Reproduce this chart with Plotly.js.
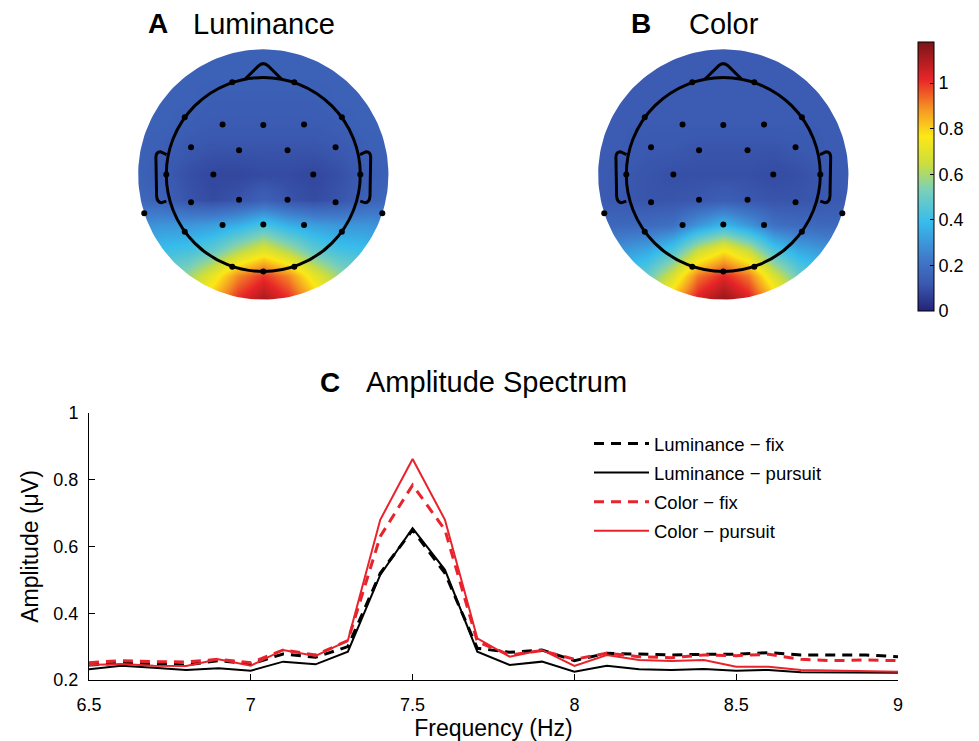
<!DOCTYPE html>
<html><head><meta charset="utf-8">
<script src="https://cdn.plot.ly/plotly-3.0.1.min.js"></script>
<style>html,body{margin:0;padding:0;background:#fff}#plot{width:979px;height:741px}</style>
</head><body><div id="plot"></div><script>
// ---------- data: amplitude spectrum ----------
const freq = [6.5,6.6,6.7,6.8,6.9,7.0,7.1,7.2,7.3,7.4,7.5,7.6,7.7,7.8,7.9,8.0,8.1,8.2,8.3,8.4,8.5,8.6,8.7,8.8,8.9,9.0];
const lumFix = [0.245,0.250,0.248,0.245,0.258,0.248,0.278,0.268,0.300,0.520,0.650,0.520,0.295,0.283,0.290,0.258,0.280,0.278,0.275,0.277,0.277,0.282,0.275,0.275,0.275,0.270];
const lumPur = [0.232,0.243,0.237,0.230,0.235,0.228,0.255,0.247,0.285,0.515,0.655,0.530,0.285,0.245,0.255,0.225,0.243,0.232,0.230,0.233,0.228,0.230,0.223,0.222,0.223,0.222];
const colFix = [0.252,0.258,0.255,0.254,0.262,0.252,0.290,0.275,0.318,0.630,0.784,0.650,0.315,0.275,0.288,0.262,0.280,0.270,0.267,0.275,0.273,0.277,0.262,0.258,0.260,0.258];
const colPur = [0.245,0.248,0.243,0.242,0.262,0.243,0.290,0.272,0.318,0.680,0.862,0.680,0.325,0.270,0.290,0.242,0.275,0.260,0.257,0.260,0.240,0.240,0.230,0.228,0.227,0.225];
const seriesNames = ['Luminance \u2212 fix','Luminance \u2212 pursuit','Color \u2212 fix','Color \u2212 pursuit'];
const xTicks = [6.5,7,7.5,8,8.5,9];
const yTicks = [0.2,0.4,0.6,0.8,1];

// ---------- data: topographic maps (head units, radius 1 = head outline) ----------
const topoX = [-1.3,-1.04,-0.78,-0.52,-0.26,0,0.26,0.52,0.78,1.04,1.3];
const topoY = [-1.3,-1.04,-0.78,-0.52,-0.26,0,0.26,0.52,0.78,1.04,1.3];
const zLum = [
 [0.55,0.60,0.70,0.85,1.02,1.12,1.02,0.85,0.70,0.60,0.55],
 [0.45,0.50,0.58,0.72,0.90,1.00,0.90,0.72,0.58,0.50,0.45],
 [0.38,0.40,0.42,0.48,0.60,0.70,0.60,0.48,0.42,0.40,0.38],
 [0.28,0.30,0.30,0.32,0.36,0.43,0.36,0.32,0.30,0.30,0.28],
 [0.17,0.15,0.11,0.09,0.11,0.15,0.11,0.09,0.11,0.15,0.17],
 [0.15,0.13,0.10,0.08,0.08,0.09,0.09,0.08,0.10,0.13,0.15],
 [0.15,0.14,0.12,0.11,0.11,0.11,0.11,0.11,0.12,0.14,0.15],
 [0.15,0.15,0.14,0.13,0.13,0.13,0.13,0.13,0.14,0.15,0.15],
 [0.15,0.15,0.15,0.14,0.14,0.14,0.14,0.14,0.15,0.15,0.15],
 [0.15,0.15,0.15,0.15,0.15,0.15,0.15,0.15,0.15,0.15,0.15],
 [0.15,0.15,0.15,0.15,0.15,0.15,0.15,0.15,0.15,0.15,0.15]
];
const zCol = [
 [0.50,0.55,0.65,0.85,1.05,1.15,1.05,0.85,0.65,0.55,0.50],
 [0.40,0.42,0.50,0.68,0.92,1.02,0.92,0.68,0.50,0.42,0.40],
 [0.28,0.30,0.34,0.44,0.64,0.76,0.64,0.44,0.34,0.30,0.28],
 [0.17,0.17,0.18,0.20,0.30,0.38,0.30,0.20,0.18,0.17,0.17],
 [0.13,0.12,0.11,0.11,0.12,0.14,0.12,0.11,0.11,0.12,0.13],
 [0.13,0.12,0.11,0.10,0.10,0.10,0.10,0.09,0.10,0.12,0.13],
 [0.13,0.13,0.12,0.12,0.11,0.11,0.11,0.11,0.12,0.13,0.13],
 [0.13,0.13,0.13,0.13,0.13,0.13,0.13,0.13,0.13,0.13,0.13],
 [0.13,0.13,0.13,0.13,0.13,0.13,0.13,0.13,0.13,0.13,0.13],
 [0.13,0.13,0.13,0.13,0.13,0.13,0.13,0.13,0.13,0.13,0.13],
 [0.13,0.13,0.13,0.13,0.13,0.13,0.13,0.13,0.13,0.13,0.13]
];
const elecX = [-0.32,0.32,-0.81,0.81,-0.42,0,0.42,-0.745,-0.25,0.25,0.745,-1.0,-0.515,0.515,1.0,-0.745,-0.25,0.25,0.745,-1.227,1.227,-0.42,0,0.42,-0.81,0.81,-0.32,0,0.32];
const elecY = [0.95,0.95,0.59,0.59,0.515,0.51,0.515,0.28,0.25,0.25,0.28,0,0,0,0,-0.285,-0.26,-0.26,-0.285,-0.4,-0.4,-0.52,-0.515,-0.52,-0.59,-0.59,-0.95,-1.0,-0.95];
const colorTicks = [0,0.2,0.4,0.6,0.8,1];

// ---------- styling ----------
const FONT = 'Liberation Sans, Arial, Helvetica, sans-serif';
const W = 979, H = 741;
const fx = p => p / W, fy = p => 1 - p / H;
const RED = '#e8232b';
const jet = [
 [0,'rgb(35,35,120)'],[0.1,'rgb(58,88,175)'],[0.2,'rgb(64,124,204)'],[0.33,'rgb(55,188,236)'],
 [0.45,'rgb(122,208,185)'],[0.55,'rgb(205,222,60)'],[0.65,'rgb(252,232,22)'],[0.75,'rgb(246,150,36)'],
 [0.86,'rgb(232,38,40)'],[1,'rgb(122,20,24)']
];
const DISK = 1.29;
const PXU = 97;          // pixels per head unit
const RNG = 1.5;         // half-range of topo axes

function maskPath() {
  const xs = [1.8,1.8,-1.8,-1.8,1.8,1.8], ys = [0,1.8,1.8,-1.8,-1.8,0];
  for (let i = 0; i <= 180; i++) {
    const a = -2 * Math.PI * i / 180;
    xs.push(DISK * Math.cos(a)); ys.push(DISK * Math.sin(a));
  }
  xs.push(1.8); ys.push(0);
  return {xs, ys};
}
const mp = maskPath();

function topoTraces(z, xa, ya, showScale) {
  return [
    {type:'heatmap', x:topoX, y:topoY, z:z, zsmooth:'best', zmin:0, zmax:1.18, colorscale:jet,
     xaxis:xa, yaxis:ya, hoverinfo:'skip', showscale:showScale,
     colorbar: showScale ? {x:fx(918), xanchor:'left', y:fy(176.5), yanchor:'middle', len:269, lenmode:'pixels',
       thickness:16, thicknessmode:'pixels', outlinewidth:1, outlinecolor:'#000', xpad:0, ypad:0,
       tickvals:colorTicks, ticks:'inside', ticklen:4, tickcolor:'#000',
       tickfont:{family:FONT, size:18, color:'#000'}} : undefined},
    {type:'scatter', x:mp.xs, y:mp.ys, mode:'lines', fill:'toself', fillcolor:'#fff',
     line:{width:0, color:'rgba(0,0,0,0)'}, xaxis:xa, yaxis:ya, hoverinfo:'skip', showlegend:false},
    {type:'scatter', x:elecX, y:elecY, mode:'markers', marker:{size:6, color:'#000'},
     xaxis:xa, yaxis:ya, hoverinfo:'skip', showlegend:false, cliponaxis:false}
  ];
}

const lineTraces = [
  {x:freq, y:lumFix, name:seriesNames[0], line:{color:'#000', width:3, dash:'10px,7px'}},
  {x:freq, y:lumPur, name:seriesNames[1], line:{color:'#000', width:2}},
  {x:freq, y:colFix, name:seriesNames[2], line:{color:RED, width:3, dash:'10px,7px'}},
  {x:freq, y:colPur, name:seriesNames[3], line:{color:RED, width:2}}
].map((t,i) => Object.assign(t, {type:'scatter', mode:'lines', xaxis:'x', yaxis:'y', legendgroup:'g'+i, hoverinfo:'x+y+name'}));

const data = [...topoTraces(zLum,'x2','y2',true), ...topoTraces(zCol,'x3','y3',false), ...lineTraces];

function headShapes(xr, yr) {
  const base = {xref:xr, yref:yr, layer:'above', line:{color:'#000', width:3}};
  return [
    Object.assign({type:'circle', x0:-1, x1:1, y0:-1, y1:1}, base),
    Object.assign({type:'path', path:'M -0.19 0.982 L -0.05 1.12 Q 0 1.165 0.05 1.12 L 0.19 0.982'}, base),
    Object.assign({type:'path', path:'M -0.997 0.206 L -1.06 0.235 Q -1.105 0.235 -1.107 0.18 L -1.1 -0.22 Q -1.095 -0.292 -1.045 -0.29 L -1.0 -0.275'}, base),
    Object.assign({type:'path', path:'M 0.997 0.206 L 1.06 0.235 Q 1.105 0.235 1.107 0.18 L 1.1 -0.22 Q 1.095 -0.292 1.045 -0.29 L 1.0 -0.275'}, base)
  ];
}

const topoAxis = (cpx, vertical, anchor) => {
  const half = RNG * PXU;
  const dom = vertical ? [fy(cpx + half), fy(cpx - half)] : [fx(cpx - half), fx(cpx + half)];
  return {domain:dom, range:[-RNG,RNG], visible:false, fixedrange:true, anchor:anchor};
};

const ann = (text, xpx, ypx, size, bold) => ({text: bold ? '<b>'+text+'</b>' : text, x:fx(xpx), y:fy(ypx),
  xref:'paper', yref:'paper', xanchor:'left', yanchor:'middle', showarrow:false,
  font:{family:FONT, size:size, color:'#000'}});

const layout = {
  width:W, height:H, margin:{l:0,r:0,t:0,b:0}, paper_bgcolor:'#fff', plot_bgcolor:'rgba(0,0,0,0)',
  font:{family:FONT, color:'#000'},
  xaxis:{domain:[fx(89), fx(898)], range:[6.5,9], anchor:'y', tickvals:xTicks, ticks:'inside', ticklen:6,
    tickcolor:'#000', showline:true, linecolor:'#000', linewidth:1, showgrid:false, zeroline:false,
    tickfont:{family:FONT, size:18}, ticklabelstandoff:8,
    title:{text:'Frequency (Hz)', font:{family:FONT, size:23}, standoff:3}},
  yaxis:{domain:[fy(680), fy(413)], range:[0.2,1], anchor:'x', tickvals:yTicks, ticks:'inside', ticklen:6,
    tickcolor:'#000', showline:true, linecolor:'#000', linewidth:1, showgrid:false, zeroline:false,
    tickfont:{family:FONT, size:18}, ticklabelstandoff:6,
    title:{text:'Amplitude (\u03bcV)', font:{family:FONT, size:23}, standoff:8}},
  xaxis2: topoAxis(263.3, false, 'y2'),
  yaxis2: topoAxis(174.5, true, 'x2'),
  xaxis3: topoAxis(723.3, false, 'y3'),
  yaxis3: topoAxis(174.5, true, 'x3'),
  shapes:[...headShapes('x2','y2'), ...headShapes('x3','y3')],
  showlegend:true,
  legend:{x:fx(589), xanchor:'left', y:fy(425), yanchor:'top', bgcolor:'rgba(0,0,0,0)', borderwidth:0,
    itemwidth:55, tracegroupgap:2, font:{family:FONT, size:18.5, color:'#000'}},
  annotations:[
    ann('A', 146, 24, 28, true), ann('Luminance', 191, 24, 29, false),
    ann('B', 629, 24, 28, true), ann('Color', 687, 24, 29, false),
    ann('C', 318, 382, 28, true), ann('Amplitude Spectrum', 364, 382, 29, false)
  ]
};

Plotly.newPlot('plot', data, layout, {staticPlot:true, displayModeBar:false});
</script></body></html>
